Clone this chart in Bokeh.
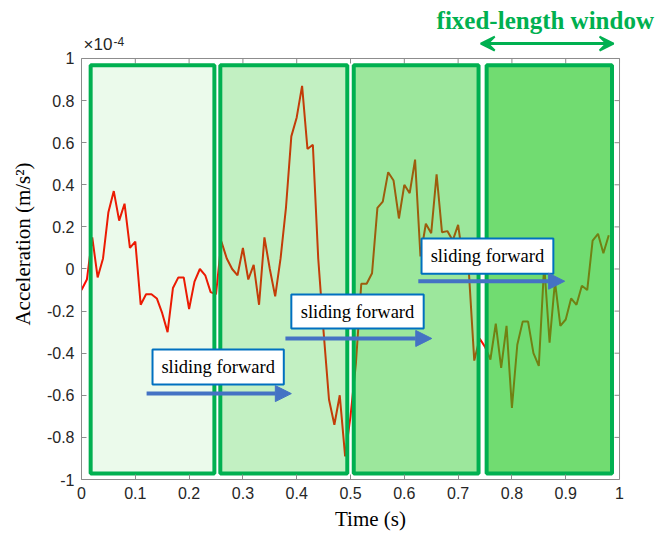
from bokeh.plotting import figure
from bokeh.models import Range1d, FixedTicker, Label, Arrow, NormalHead, VeeHead
from bokeh.core.properties import value
from bokeh.embed import file_html
from bokeh.resources import INLINE

# ---------------- data ----------------
time_s = [round(i * 0.01, 2) for i in range(99)]
accel = [
    -0.10, -0.05, 0.15, -0.04, 0.05, 0.27, 0.37, 0.23, 0.31, 0.10,
    0.13, -0.17, -0.12, -0.12, -0.14, -0.21, -0.30, -0.09, -0.04, -0.04,
    -0.19, -0.06, 0.00, -0.03, -0.11, -0.12, 0.13, 0.05, 0.00, -0.03,
    0.10, -0.05, 0.02, -0.17, 0.15, 0.00, -0.13, 0.05, 0.29, 0.63,
    0.72, 0.87, 0.57, 0.59, 0.05, -0.30, -0.62, -0.74, -0.60, -0.89,
    -0.70, -0.45, -0.07, -0.07, -0.02, 0.29, 0.32, 0.46, 0.42, 0.24,
    0.40, 0.36, 0.52, 0.06, 0.215, 0.17, 0.45, 0.175, 0.18, 0.135,
    0.21, 0.025, -0.015, -0.435, -0.33, -0.37, -0.43, -0.26, -0.47, -0.27,
    -0.66, -0.36, -0.25, -0.25, -0.40, -0.46, 0.02, -0.35, -0.06, -0.27,
    -0.24, -0.14, -0.17, -0.08, -0.10, 0.135, 0.167, 0.075, 0.16,
]

win_left = [0.017, 0.258, 0.506, 0.753]
win_right = [0.247, 0.494, 0.738, 0.986]
win_bottom = [-0.972, -0.972, -0.972, -0.972]
win_top = [0.968, 0.968, 0.968, 0.968]
win_alpha = [0.09, 0.27, 0.44, 0.63]

box_left = [0.132, 0.390, 0.632]
box_right = [0.376, 0.636, 0.877]
box_bottom = [-0.549, -0.283, -0.022]
box_top = [-0.382, -0.121, 0.145]
box_text = ["sliding forward", "sliding forward", "sliding forward"]
arrow_x0 = [0.121, 0.379, 0.626]
arrow_x1 = [0.390, 0.651, 0.898]
arrow_y = [-0.592, -0.330, -0.058]

x_ticks = [0, 0.1, 0.2, 0.3, 0.4, 0.5, 0.6, 0.7, 0.8, 0.9, 1]
x_tick_labels = ["0", "0.1", "0.2", "0.3", "0.4", "0.5", "0.6", "0.7", "0.8", "0.9", "1"]
y_ticks = [-1, -0.8, -0.6, -0.4, -0.2, 0, 0.2, 0.4, 0.6, 0.8, 1]
y_tick_labels = ["-1", "-0.8", "-0.6", "-0.4", "-0.2", "0", "0.2", "0.4", "0.6", "0.8", "1"]

# ---------------- figure ----------------
AXC = "#8c8c8c"
TXT = "#262626"
GREEN = "#00b050"
BLUE = "#4472c4"

X_MAX = 1.0743   # frame extends right of the axes box to hold the annotation
Y_MAX = 1.2375   # frame extends above the axes box to hold the annotation
TICK_X = 5 / 538.0
TICK_Y = 5 / 210.5

p = figure(frame_width=578, frame_height=471, output_backend="svg", toolbar_location=None,
           x_range=Range1d(0, X_MAX), y_range=Range1d(-1, Y_MAX),
           min_border_left=81, min_border_top=8, min_border_right=0, min_border_bottom=50,
           x_axis_label="Time (s)", y_axis_label="Acceleration (m/s²)")
p.grid.visible = False
p.outline_line_color = None
p.background_fill_color = "white"
p.border_fill_color = "white"

for ax, ticks, labels in ((p.xaxis[0], x_ticks, x_tick_labels), (p.yaxis[0], y_ticks, y_tick_labels)):
    ax.ticker = FixedTicker(ticks=ticks)
    ax.bounds = (ticks[0], ticks[-1])
    ax.major_label_overrides = {t: l for t, l in zip(ticks, labels)}
    ax.axis_line_color = AXC
    ax.major_tick_line_color = AXC
    ax.major_tick_in = 5
    ax.major_tick_out = 0
    ax.minor_tick_line_color = None
    ax.major_label_text_font = "Liberation Sans"
    ax.major_label_text_font_size = "16px"
    ax.major_label_text_color = TXT
    ax.major_label_standoff = 7
    ax.axis_label_text_font = "Liberation Serif"
    ax.axis_label_text_font_size = "21px"
    ax.axis_label_text_font_style = "normal"
    ax.axis_label_text_color = "black"
p.xaxis[0].axis_label_standoff = 5
p.yaxis[0].axis_label_standoff = 9

# top and right box edges with inward ticks
p.segment(x0=[0, x_ticks[-1]], y0=[y_ticks[-1], y_ticks[0]], x1=[x_ticks[-1], x_ticks[-1]],
          y1=[y_ticks[-1], y_ticks[-1]], line_color=AXC, line_width=1)
p.segment(x0=x_ticks, x1=x_ticks, y0=[y_ticks[-1]] * len(x_ticks),
          y1=[y_ticks[-1] - TICK_Y] * len(x_ticks), line_color=AXC, line_width=1)
p.segment(x0=[x_ticks[-1]] * len(y_ticks), x1=[x_ticks[-1] - TICK_X] * len(y_ticks),
          y0=y_ticks, y1=y_ticks, line_color=AXC, line_width=1)

# signal
p.line(time_s, accel, line_color="#ff0a00", line_width=2)

# sliding windows (semi-transparent fill over the signal)
p.quad(left=win_left, right=win_right, bottom=win_bottom, top=win_top,
       fill_color="#1ec81e", fill_alpha=win_alpha, line_color=GREEN, line_width=4)

# "sliding forward" boxes and arrows
p.quad(left=box_left, right=box_right, bottom=box_bottom, top=box_top,
       fill_color="white", line_color="#0070c0", line_width=2)
p.text(x=[(a + b) / 2 for a, b in zip(box_left, box_right)],
       y=[(a + b) / 2 for a, b in zip(box_bottom, box_top)], text=box_text,
       text_font=value("Liberation Serif"), text_font_size="18.5px", text_color="black",
       text_align="center", text_baseline="middle")
for x0, x1, y in zip(arrow_x0, arrow_x1, arrow_y):
    p.add_layout(Arrow(x_start=x0, x_end=x1, y_start=y, y_end=y, line_color=BLUE, line_width=4,
                       end=NormalHead(size=16, fill_color=BLUE, line_color=BLUE)))

# exponent label
p.add_layout(Label(x=0, y=1, x_offset=2, y_offset=4, text="×10", text_font="Liberation Sans",
                   text_font_size="17px", text_color=TXT))
p.add_layout(Label(x=0, y=1, x_offset=32, y_offset=12, text="-4", text_font="Liberation Sans",
                   text_font_size="12px", text_color=TXT))

# fixed-length window annotation
p.add_layout(Label(x=0.862, y=1.18, text="fixed-length window", text_font="Liberation Serif",
                   text_font_size="25px", text_font_style="bold", text_color=GREEN,
                   text_align="center", text_baseline="middle"))
p.add_layout(Arrow(x_start=0.742, x_end=0.989, y_start=1.071, y_end=1.071, line_color=GREEN,
                   line_width=3,
                   start=VeeHead(size=14, fill_color=GREEN, line_color=GREEN, line_width=2),
                   end=VeeHead(size=14, fill_color=GREEN, line_color=GREEN, line_width=2)))

open("out.html", "w").write(file_html(p, INLINE))
